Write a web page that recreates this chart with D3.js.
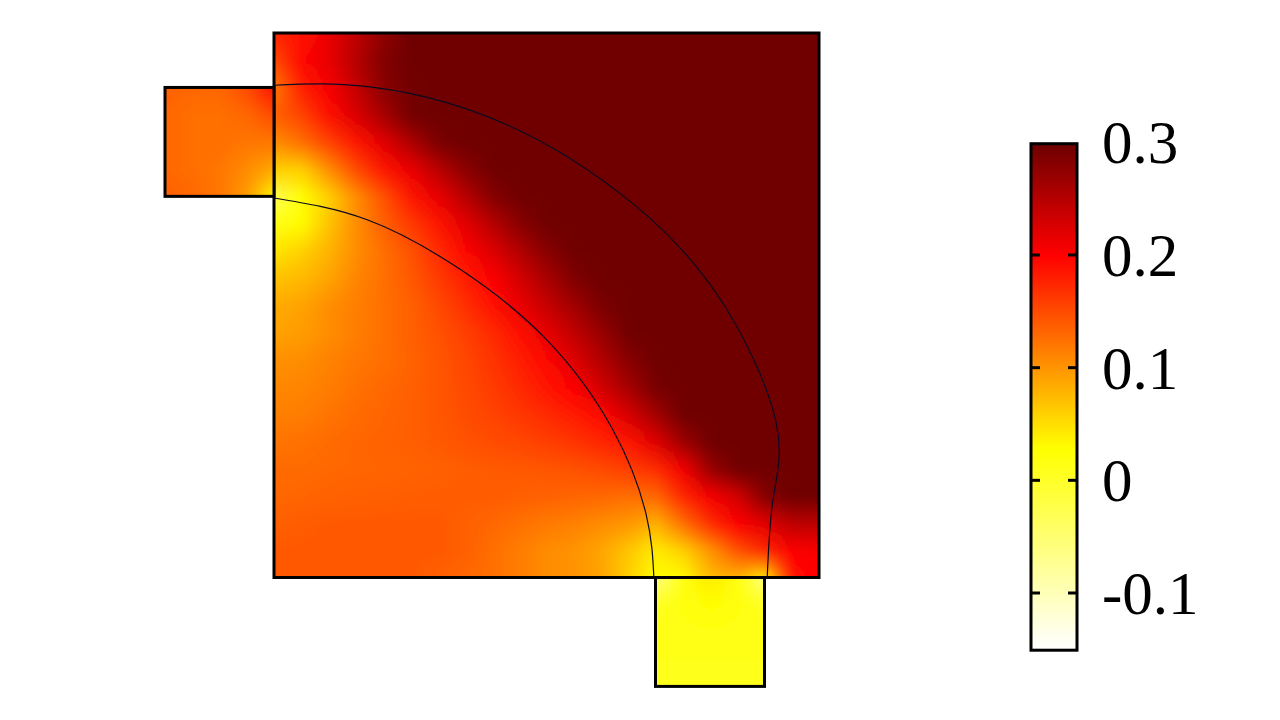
<!DOCTYPE html>
<html>
<head>
<meta charset="utf-8">
<script src="https://cdn.jsdelivr.net/npm/d3@7"></script>
<style>
  html, body { margin: 0; background: #fff; }
  svg { display: block; }
  text { font-family: "Liberation Serif", serif; font-size: 61px; fill: #000; }
</style>
</head>
<body>
<div id="chart"></div>
<script>
// values, rows run top to bottom, step 0.5 in x and y
const mainGrid = [
  [.175,.190,.215,.245,.275,.297,.30,.30,.30,.30,.30,.30,.30,.30,.30,.30,.30,.30,.30,.30,.30],
  [.150,.195,.215,.250,.285,.298,.30,.30,.30,.30,.30,.30,.30,.30,.30,.30,.30,.30,.30,.30,.30],
  [.120,.180,.205,.240,.280,.295,.30,.30,.30,.30,.30,.30,.30,.30,.30,.30,.30,.30,.30,.30,.30],
  [.135,.155,.190,.225,.260,.295,.30,.30,.30,.30,.30,.30,.30,.30,.30,.30,.30,.30,.30,.30,.30],
  [.105,.125,.155,.185,.220,.255,.29,.30,.30,.30,.30,.30,.30,.30,.30,.30,.30,.30,.30,.30,.30],
  [.060,.060,.105,.150,.185,.213,.246,.279,.30,.30,.30,.30,.30,.30,.30,.30,.30,.30,.30,.30,.30],
  [-.03,.025,.060,.105,.145,.185,.214,.248,.282,.30,.30,.30,.30,.30,.30,.30,.30,.30,.30,.30,.30],
  [.015,.030,.070,.105,.135,.160,.185,.218,.249,.28,.30,.30,.30,.30,.30,.30,.30,.30,.30,.30,.30],
  [.045,.060,.080,.105,.125,.145,.17,.195,.223,.252,.281,.30,.30,.30,.30,.30,.30,.30,.30,.30,.30],
  [.070,.075,.090,.110,.125,.140,.16,.18,.20,.229,.258,.287,.30,.30,.30,.30,.30,.30,.30,.30,.30],
  [.085,.090,.105,.115,.125,.135,.15,.168,.188,.213,.239,.264,.29,.30,.30,.30,.30,.30,.30,.30,.30],
  [.090,.095,.105,.115,.125,.135,.145,.157,.172,.19,.216,.243,.27,.298,.30,.30,.30,.30,.30,.30,.30],
  [.102,.105,.112,.120,.125,.133,.142,.152,.165,.18,.195,.223,.252,.281,.30,.30,.30,.30,.30,.30,.30],
  [.108,.110,.116,.124,.130,.135,.142,.15,.16,.172,.185,.20,.231,.261,.292,.30,.30,.30,.30,.30,.30],
  [.114,.116,.122,.128,.132,.136,.141,.148,.155,.163,.172,.182,.193,.228,.263,.298,.30,.30,.30,.30,.30],
  [.122,.124,.128,.131,.133,.136,.14,.144,.148,.152,.158,.165,.175,.186,.222,.267,.30,.30,.30,.30,.30],
  [.128,.128,.130,.131,.132,.133,.135,.137,.139,.14,.142,.145,.15,.158,.17,.206,.27,.30,.30,.30,.30],
  [.130,.132,.134,.135,.136,.137,.138,.138,.138,.136,.134,.132,.13,.125,.13,.175,.205,.23,.285,.296,.296],
  [.135,.138,.140,.140,.140,.140,.14,.135,.13,.124,.118,.113,.105,.098,.08,.125,.17,.20,.22,.245,.245],
  [.140,.140,.140,.140,.140,.140,.14,.135,.125,.115,.105,.10,.088,.065,.04,.06,.10,.145,.175,.20,.205],
  [.140,.140,.140,.140,.140,.140,.135,.13,.125,.115,.105,.10,.09,.06,.028,.03,.075,.08,.04,.19,.20]
];
const leftPortGrid = [
  [.135,.130,.130,.150,.190],
  [.130,.125,.125,.130,.150],
  [.130,.125,.125,.120,.120],
  [.130,.125,.120,.105,.085],
  [.135,.130,.120,.095,.030]
];
const bottomPortGrid = [
  [-.06,.020,.040,.020,-.06],
  [.005,.018,.026,.018,.005],
  [.012,.012,.014,.012,.012],
  [.010,.010,.010,.010,.010],
  [.010,.010,.010,.010,.010]
];
const innerCurve = [[0,6.97],[1.71,6.57],[3.43,5.65],[5.01,4.36],[6.22,2.71],[6.83,1.15],[6.97,0]];
const outerCurve = [[0,9.04],[1.83,9],[4.28,8.31],[6.64,6.82],[8.26,5],[9.21,2.86],[9.16,1.46],[9.05,0]];
const colorStops = [-0.149, 0.028, 0.2, 0.297];
const colorValues = ["#ffffff", "#ffff00", "#ff0000", "#700000"];
const tickValues = [-0.1, 0, 0.1, 0.2];
const tickLabels = ["0.3", "0.2", "0.1", "0", "-0.1"];
const labelValues = [0.3, 0.2, 0.1, 0, -0.1];

const svg = d3.select('#chart').append('svg').attr('width', 1280).attr('height', 720);

const x = d3.scaleLinear().domain([0, 10]).range([274, 819]);
const y = d3.scaleLinear().domain([0, 10]).range([577.5, 33]);
const color = d3.scaleLinear().domain(colorStops).range(colorValues).clamp(true);
const barY = d3.scaleLinear().domain([0.2, -0.1]).range([255, 593]);

// evens out the lumps the coarse grid leaves after scaling
svg.append('filter')
  .attr('id', 'soften')
  .attr('x', 0).attr('y', 0).attr('width', 1).attr('height', 1)
  .append('feGaussianBlur')
  .attr('stdDeviation', 5)
  .attr('edgeMode', 'duplicate');

// paints a grid into a tiny canvas, browser smooths it when it scales up
function drawGrid(grid, x0, y1, id) {
  const rows = grid.length, cols = grid[0].length;
  const canvas = document.createElement('canvas');
  canvas.width = cols;
  canvas.height = rows;
  const ctx = canvas.getContext('2d');
  grid.forEach((row, j) => row.forEach((v, i) => {
    ctx.fillStyle = color(v);
    ctx.fillRect(i, j, 1, 1);
  }));
  const x1 = x0 + (cols - 1) * 0.5, y0 = y1 - (rows - 1) * 0.5;
  svg.append('clipPath').attr('id', id).append('rect')
    .attr('x', x(x0)).attr('y', y(y1))
    .attr('width', x(x1) - x(x0)).attr('height', y(y0) - y(y1));
  svg.append('g').attr('clip-path', `url(#${id})`).append('image')
    .attr('href', canvas.toDataURL())
    .attr('x', x(x0 - 0.25)).attr('y', y(y1 + 0.25))
    .attr('width', x(x1 + 0.25) - x(x0 - 0.25))
    .attr('height', y(y0 - 0.25) - y(y1 + 0.25))
    .attr('preserveAspectRatio', 'none')
    .attr('filter', 'url(#soften)');
  svg.append('rect')
    .attr('x', x(x0)).attr('y', y(y1))
    .attr('width', x(x1) - x(x0)).attr('height', y(y0) - y(y1))
    .attr('class', 'outline');
}

drawGrid(mainGrid, 0, 10, 'clipMain');
drawGrid(leftPortGrid, -2, 9, 'clipLeft');
drawGrid(bottomPortGrid, 7, 0, 'clipBottom');

svg.selectAll('.outline')
  .attr('fill', 'none').attr('stroke', '#000').attr('stroke-width', 3);

const line = d3.line().x(d => x(d[0])).y(d => y(d[1])).curve(d3.curveNatural);
svg.selectAll('.curve')
  .data([innerCurve, outerCurve])
  .enter()
  .append('path')
  .attr('class', 'curve')
  .attr('d', line)
  .attr('fill', 'none')
  .attr('stroke', '#0a0a20')
  .attr('stroke-width', 1.2);

// colour bar
const grad = svg.append('defs').append('linearGradient')
  .attr('id', 'barGrad')
  .attr('gradientUnits', 'userSpaceOnUse')
  .attr('x1', 0).attr('x2', 0)
  .attr('y1', barY(colorStops[0])).attr('y2', barY(colorStops[3]));
colorStops.forEach((s, i) => {
  grad.append('stop')
    .attr('offset', (s - colorStops[0]) / (colorStops[3] - colorStops[0]))
    .attr('stop-color', colorValues[i]);
});

const barLeft = 1031, barRight = 1077;
svg.append('rect')
  .attr('x', barLeft).attr('y', barY(colorStops[3]) - 2)
  .attr('width', barRight - barLeft)
  .attr('height', barY(colorStops[0]) - barY(colorStops[3]) + 4)
  .attr('fill', 'url(#barGrad)')
  .attr('stroke', '#000')
  .attr('stroke-width', 3);

[[barLeft, barLeft + 9], [barRight - 9, barRight]].forEach(ends => {
  svg.selectAll(null)
    .data(tickValues)
    .enter()
    .append('line')
    .attr('x1', ends[0]).attr('x2', ends[1])
    .attr('y1', d => barY(d)).attr('y2', d => barY(d))
    .attr('stroke', '#000').attr('stroke-width', 3);
});

svg.selectAll('.barLabel')
  .data(labelValues)
  .enter()
  .append('text')
  .attr('class', 'barLabel')
  .attr('x', 1102)
  .attr('y', d => barY(d) + 21)
  .text((d, i) => tickLabels[i]);
</script>
</body>
</html>
